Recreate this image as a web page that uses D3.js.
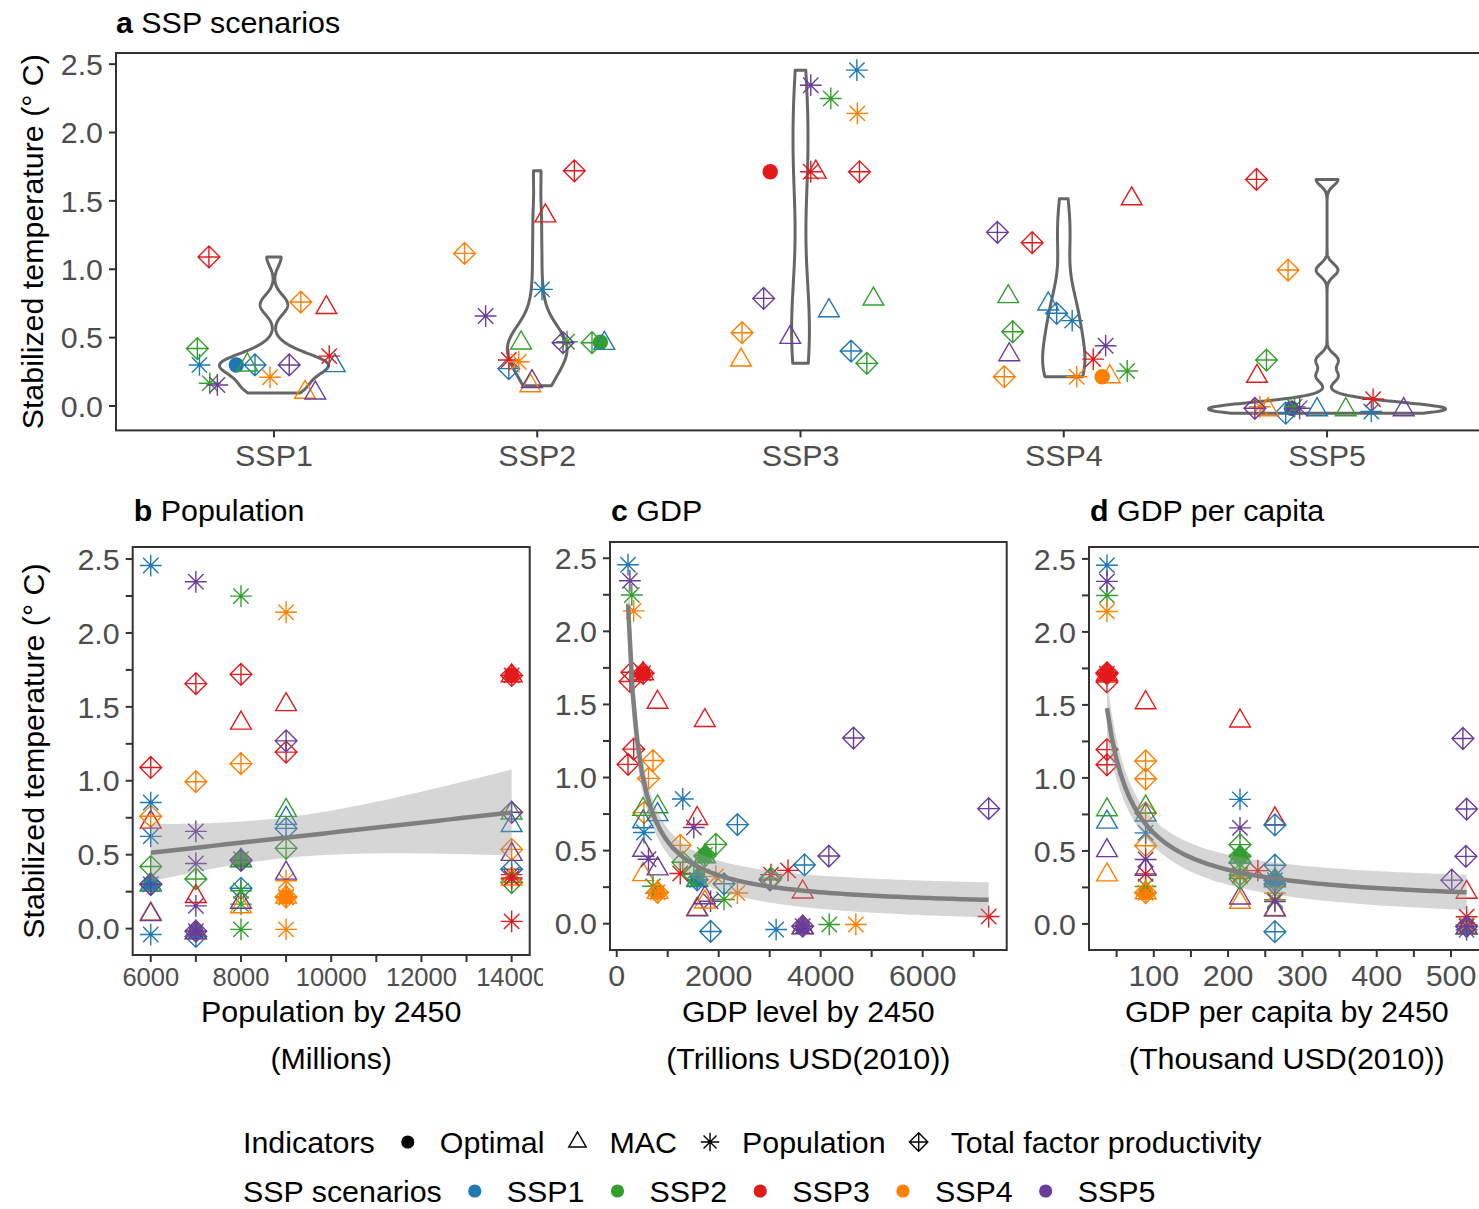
<!DOCTYPE html>
<html>
<head>
<meta charset="utf-8">
<script src="https://cdn.jsdelivr.net/npm/d3@7"></script>
<style>
  body { margin: 0; background: #fff; }
  text { font-family: "Liberation Sans", Arial, Helvetica, sans-serif; }
</style>
</head>
<body>
<svg id="fig" width="1479" height="1209"></svg>
<script>
// ---------------- data ----------------
const scenarios = ["SSP1", "SSP2", "SSP3", "SSP4", "SSP5"];
const sspColors = ["#1F78B4", "#33A02C", "#E31A1C", "#FF7F00", "#6A3D9A"];
const indicatorNames = ["Optimal", "MAC", "Population", "Total factor productivity"];

// population by 2450 (millions) of each SSP
const population2450 = [6000, 8000, 14000, 9000, 7000];

// stabilized temperature (deg C); rows = scenario, columns = SSP the indicator is taken from
const tempOptimal = [0.30, 0.466, 1.713, 0.214, -0.017];
const tempMAC = [
  [0.295, 0.30, 0.72, 0.10, 0.095],
  [0.458, 0.461, 1.39, 0.148, 0.178],
  [0.697, 0.782, 1.71, 0.336, 0.502],
  [0.746, 0.80, 1.515, 0.214, 0.375],
  [-0.027, -0.027, 0.217, -0.027, -0.027]
];
const tempPop = [
  [0.30, 0.166, 0.365, 0.21, 0.154],
  [0.853, 0.47, 0.336, 0.324, 0.658],
  [2.456, 2.249, 1.713, 2.14, 2.346],
  [0.624, 0.256, 0.343, 0.214, 0.441],
  [-0.04, -0.005, 0.049, -0.005, -0.017]
];
const tempTFP = [
  [0.30, 0.42, 1.09, 0.76, 0.30],
  [0.273, 0.463, 1.72, 1.116, 0.463],
  [0.402, 0.312, 1.713, 0.536, 0.787],
  [0.678, 0.543, 1.194, 0.214, 1.27],
  [-0.053, 0.336, 1.657, 0.994, -0.017]
];

// horizontal jitter in panel a (fraction of a category step)
const jitOptimal = [-0.143, 0.240, -0.115, 0.146, -0.135];
const jitMAC = [
  [0.231, -0.101, 0.199, 0.118, 0.157],
  [0.255, -0.061, 0.031, -0.026, -0.020],
  [0.108, 0.277, 0.058, -0.226, -0.039],
  [-0.059, -0.211, 0.258, 0.175, -0.207],
  [-0.038, 0.071, -0.266, -0.224, 0.291]
];
const jitPop = [
  [-0.283, -0.244, 0.210, -0.015, -0.215],
  [0.018, 0.113, -0.108, -0.070, -0.196],
  [0.214, 0.115, 0.039, 0.216, 0.039],
  [0.032, 0.241, 0.112, 0.049, 0.159],
  [0.168, -0.123, 0.175, -0.255, -0.104]
];
const jitTFP = [
  [-0.072, -0.291, -0.247, 0.102, 0.058],
  [-0.108, 0.208, 0.141, -0.276, 0.098],
  [0.192, 0.252, 0.224, -0.222, -0.140],
  [-0.027, -0.194, -0.120, -0.226, -0.252],
  [-0.157, -0.230, -0.268, -0.148, -0.274]
];

// GDP per capita by 2450 (thousand USD 2010)
const gdpPcOptimal = [263, 216, 37, 89, 521];
const gdpPcMAC = [
  [263, 263, 263, 263, 263],
  [216, 216, 216, 216, 216],
  [37, 37, 37, 37, 37],
  [89, 89, 89, 89, 89],
  [521, 521, 521, 521, 521]
];
const gdpPcPop = [
  [263, 263, 240, 263, 263],
  [216, 216, 216, 216, 216],
  [37, 37, 37, 37, 37],
  [89, 89, 89, 89, 89],
  [521, 521, 521, 521, 521]
];
const gdpPcTFP = [
  [263, 216, 37, 89, 501],
  [263, 216, 37, 89, 520],
  [263, 216, 37, 89, 521],
  [263, 216, 37, 89, 516],
  [263, 216, 37, 89, 521]
];

const yTicksMajor = [0, 0.5, 1.0, 1.5, 2.0, 2.5];
const yTicksMinor = [0.25, 0.75, 1.25, 1.75, 2.25];
const popTicks = [6000, 8000, 10000, 12000, 14000];
const popMinor = [7000, 9000, 11000, 13000];
const gdpTicks = [0, 2000, 4000, 6000];
const gdpMinor = [1000, 3000, 5000, 7000];
const pcTicks = [100, 200, 300, 400, 500];
const pcMinor = [50, 150, 250, 350, 450];

// ---------------- records ----------------
const records = [];
scenarios.forEach((s, i) => {
  records.push({ scen: i, ind: "Optimal", col: i, temp: tempOptimal[i], jit: jitOptimal[i],
    pop: population2450[i], pc: gdpPcOptimal[i] });
  for (let c = 0; c < 5; c++) {
    records.push({ scen: i, ind: "MAC", col: c, temp: tempMAC[i][c], jit: jitMAC[i][c],
      pop: population2450[i], pc: gdpPcMAC[i][c] });
    records.push({ scen: i, ind: "Population", col: c, temp: tempPop[i][c], jit: jitPop[i][c],
      pop: population2450[c], pc: gdpPcPop[i][c] });
    records.push({ scen: i, ind: "Total factor productivity", col: c, temp: tempTFP[i][c], jit: jitTFP[i][c],
      pop: population2450[i], pc: gdpPcTFP[i][c] });
  }
});
records.forEach(d => { d.gdp = d.pc * d.pop / 1000; });

// ---------------- helpers ----------------
const svg = d3.select("#fig");
const FONT = 30.4;
const AXIS_COL = "#333333";
const TICK_TXT = "#4D4D4D";
const TICK_LEN = 7;

function shapePath(ind, s) {
  const a = Math.SQRT2 * s;
  if (ind === "MAC") {
    return `M0,${-1.555 * s}L${1.347 * s},${0.778 * s}L${-1.347 * s},${0.778 * s}Z`;
  }
  if (ind === "Population") {
    return `M${-a},0L${a},0M0,${-a}L0,${a}M${-s},${-s}L${s},${s}M${-s},${s}L${s},${-s}`;
  }
  // total factor productivity: diamond with cross
  return `M${-a},0L0,${-a}L${a},0L0,${a}ZM${-a},0L${a},0M0,${-a}L0,${a}`;
}

function drawPoints(g, data, xf, yf, s) {
  data.forEach(d => {
    const col = sspColors[d.col];
    const tx = xf(d), ty = yf(d);
    if (d.ind === "Optimal") {
      g.append("circle").attr("cx", tx).attr("cy", ty).attr("r", s).attr("fill", col);
    } else {
      g.append("path").attr("d", shapePath(d.ind, s))
        .attr("transform", `translate(${tx},${ty})`)
        .attr("fill", "none").attr("stroke", col).attr("stroke-width", 1.4);
    }
  });
}

function expand(ext) {
  const p = 0.05 * (ext[1] - ext[0]);
  return [ext[0] - p, ext[1] + p];
}

function frame(g, box) {
  g.append("rect").attr("x", box.x0).attr("y", box.y0)
    .attr("width", box.x1 - box.x0).attr("height", box.y1 - box.y0)
    .attr("fill", "none").attr("stroke", AXIS_COL).attr("stroke-width", 2);
}

function yAxis(g, box, y, minor) {
  const all = yTicksMajor.concat(minor ? yTicksMinor : []);
  all.forEach(v => {
    g.append("line").attr("x1", box.x0 - TICK_LEN).attr("x2", box.x0)
      .attr("y1", y(v)).attr("y2", y(v)).attr("stroke", AXIS_COL).attr("stroke-width", 2);
  });
  yTicksMajor.forEach(v => {
    g.append("text").attr("x", box.x0 - 13).attr("y", y(v)).attr("dy", "0.35em")
      .attr("text-anchor", "end").attr("font-size", FONT).attr("fill", TICK_TXT)
      .text(d3.format(".1f")(v));
  });
}

function xAxis(g, box, x, major, minor, fmt, size, labelY) {
  major.concat(minor).forEach(v => {
    g.append("line").attr("x1", x(v)).attr("x2", x(v))
      .attr("y1", box.y1).attr("y2", box.y1 + TICK_LEN).attr("stroke", AXIS_COL).attr("stroke-width", 2);
  });
  major.forEach(v => {
    g.append("text").attr("x", x(v)).attr("y", labelY).attr("dy", "0.35em")
      .attr("text-anchor", "middle").attr("font-size", size).attr("fill", TICK_TXT)
      .text(fmt(v));
  });
}

function title(g, x, y, letter, rest) {
  const t = g.append("text").attr("x", x).attr("y", y).attr("dy", "0.35em")
    .attr("font-size", FONT).attr("fill", "#000");
  t.append("tspan").attr("font-weight", "bold").text(letter);
  t.append("tspan").text(" " + rest);
}

function yTitle(g, x, yc) {
  g.append("text").attr("transform", `translate(${x},${yc}) rotate(-90)`)
    .attr("dy", "0.35em").attr("text-anchor", "middle").attr("font-size", FONT)
    .attr("fill", "#000").text("Stabilized temperature (° C)");
}

function xTitle(g, box, l1, l2) {
  const xc = (box.x0 + box.x1) / 2;
  g.append("text").attr("x", xc).attr("y", 1011).attr("dy", "0.35em").attr("text-anchor", "middle")
    .attr("font-size", FONT).attr("fill", "#000").text(l1);
  g.append("text").attr("x", xc).attr("y", 1058).attr("dy", "0.35em").attr("text-anchor", "middle")
    .attr("font-size", FONT).attr("fill", "#000").text(l2);
}

function clipFor(id, box) {
  svg.append("clipPath").attr("id", id).append("rect")
    .attr("x", box.x0).attr("y", box.y0).attr("width", box.x1 - box.x0).attr("height", box.y1 - box.y0);
  return `url(#${id})`;
}

// Ordinary least squares on a transformed predictor, with 95% confidence band
function fitLM(xs, ys, tf) {
  const n = xs.length;
  const u = xs.map(tf);
  const ub = d3.mean(u), yb = d3.mean(ys);
  let sxx = 0, sxy = 0;
  for (let i = 0; i < n; i++) { sxx += (u[i] - ub) ** 2; sxy += (u[i] - ub) * (ys[i] - yb); }
  const b = sxy / sxx, a = yb - b * ub;
  let sse = 0;
  for (let i = 0; i < n; i++) sse += (ys[i] - a - b * u[i]) ** 2;
  const mse = sse / (n - 2);
  const tq = 1.9908; // t(0.975, 78)
  const [lo, hi] = d3.extent(xs);
  return d3.range(80).map(k => {
    const xv = lo + (hi - lo) * k / 79;
    const uv = tf(xv);
    const f = a + b * uv;
    const se = Math.sqrt(mse * (1 / n + (uv - ub) ** 2 / sxx));
    return { x: xv, y: f, lo: f - tq * se, hi: f + tq * se };
  });
}

// ---------------- panel a : violins per scenario ----------------
const boxA = { x0: 116, x1: 1485, y0: 53, y1: 430.4 };
const gA = svg.append("g");
const xA = d3.scalePoint().domain(scenarios).range([boxA.x0, boxA.x1]).padding(0.6);
const stepA = xA.step();
const yA = d3.scaleLinear().domain(expand(d3.extent(records, d => d.temp))).range([boxA.y1, boxA.y0]);

function bwNrd0(v) {
  const s = v.slice().sort((p, q) => p - q);
  const sd = d3.deviation(s);
  const iqr = d3.quantileSorted(s, 0.75) - d3.quantileSorted(s, 0.25);
  let lo = Math.min(sd, iqr / 1.34);
  if (!lo) lo = sd || Math.abs(s[0]) || 1;
  return 0.9 * lo * Math.pow(s.length, -0.2);
}
const violins = scenarios.map((s, i) => {
  const v = records.filter(d => d.scen === i).map(d => d.temp);
  const bw = bwNrd0(v);
  const [lo, hi] = d3.extent(v);
  const pts = d3.range(512).map(k => {
    const t = lo + (hi - lo) * k / 511;
    const dens = d3.sum(v, xi => Math.exp(-0.5 * ((t - xi) / bw) ** 2)) / (v.length * bw * Math.sqrt(2 * Math.PI));
    return { t, dens };
  });
  return { scen: s, pts };
});
const maxDens = d3.max(violins, v => d3.max(v.pts, p => p.dens));

const clipA = clipFor("clipA", boxA);
const plotA = gA.append("g").attr("clip-path", clipA);
violins.forEach(v => {
  const cx = xA(v.scen);
  const right = v.pts.map(p => [cx + p.dens / maxDens * 0.45 * stepA, yA(p.t)]);
  const left = v.pts.slice().reverse().map(p => [cx - p.dens / maxDens * 0.45 * stepA, yA(p.t)]);
  const ring = right.concat(left);
  plotA.append("path").attr("d", d3.line()(ring) + "Z")
    .attr("fill", "none").attr("stroke", "#666666").attr("stroke-width", 3).attr("stroke-linejoin", "round");
});
drawPoints(plotA, records, d => xA(scenarios[d.scen]) + d.jit * stepA, d => yA(d.temp), 7.7);
frame(gA, boxA);
yAxis(gA, boxA, yA, false);
scenarios.forEach(s => {
  gA.append("line").attr("x1", xA(s)).attr("x2", xA(s)).attr("y1", boxA.y1).attr("y2", boxA.y1 + TICK_LEN)
    .attr("stroke", AXIS_COL).attr("stroke-width", 2);
  gA.append("text").attr("x", xA(s)).attr("y", 455).attr("dy", "0.35em").attr("text-anchor", "middle")
    .attr("font-size", FONT).attr("fill", TICK_TXT).text(s);
});
title(gA, 116, 22, "a", "SSP scenarios");
yTitle(gA, 32, (boxA.y0 + boxA.y1) / 2);

// ---------------- panels b, c, d : scatter with fitted curve ----------------
function scatterPanel(cfg) {
  const box = cfg.box;
  const outer = svg.append("g");
  if (cfg.cellRight) {
    svg.append("clipPath").attr("id", cfg.id + "cell").append("rect")
      .attr("x", 0).attr("y", 480).attr("width", cfg.cellRight).attr("height", 729);
    outer.attr("clip-path", `url(#${cfg.id}cell)`);
  }
  const xs = records.map(cfg.xv), ys = records.map(d => d.temp);
  const fit = fitLM(xs, ys, cfg.tf);
  const x = d3.scaleLinear().domain(expand(d3.extent(xs))).range([box.x0, box.x1]);
  const yExt = d3.extent(ys.concat(fit.map(f => f.lo), fit.map(f => f.hi)));
  const y = d3.scaleLinear().domain(expand(yExt)).range([box.y1, box.y0]);
  const plot = outer.append("g").attr("clip-path", clipFor(cfg.id, box));
  drawPoints(plot, records, d => x(cfg.xv(d)), d => y(d.temp), 7.7);
  plot.append("path").datum(fit)
    .attr("d", d3.area().x(f => x(f.x)).y0(f => y(f.lo)).y1(f => y(f.hi)))
    .attr("fill", "#999999").attr("fill-opacity", 0.4);
  plot.append("path").datum(fit)
    .attr("d", d3.line().x(f => x(f.x)).y(f => y(f.y)))
    .attr("fill", "none").attr("stroke", "#7F7F7F").attr("stroke-width", 4.5);
  frame(outer, box);
  yAxis(outer, box, y, true);
  xAxis(outer, box, x, cfg.major, cfg.minor, d3.format("d"), cfg.tickSize, cfg.labelY);
  title(outer, box.x0 + 1, 510, cfg.letter, cfg.title);
  xTitle(outer, box, cfg.xl1, cfg.xl2);
  if (cfg.yTitle) yTitle(outer, 33, (box.y0 + box.y1) / 2);
}

scatterPanel({ id: "clipB", box: { x0: 132.7, x1: 529.7, y0: 547, y1: 955 }, cellRight: 543,
  xv: d => d.pop, tf: v => v, major: popTicks, minor: popMinor, tickSize: 25.5, labelY: 977,
  letter: "b", title: "Population", xl1: "Population by 2450", xl2: "(Millions)", yTitle: true });
scatterPanel({ id: "clipC", box: { x0: 610, x1: 1006.7, y0: 542, y1: 950 },
  xv: d => d.gdp, tf: v => 1 / v, major: gdpTicks, minor: gdpMinor, tickSize: FONT, labelY: 975,
  letter: "c", title: "GDP", xl1: "GDP level by 2450", xl2: "(Trillions USD(2010))" });
scatterPanel({ id: "clipD", box: { x0: 1089, x1: 1484.6, y0: 547, y1: 950 },
  xv: d => d.pc, tf: v => 1 / v, major: pcTicks, minor: pcMinor, tickSize: FONT, labelY: 975,
  letter: "d", title: "GDP per capita", xl1: "GDP per capita by 2450", xl2: "(Thousand USD(2010))" });

// ---------------- legends ----------------
const gL = svg.append("g");
function legendRow(yc, head, items) {
  let x = 243;
  const h = gL.append("text").attr("x", x).attr("y", yc).attr("dy", "0.35em")
    .attr("font-size", FONT).attr("fill", "#000").text(head);
  x += h.node().getComputedTextLength() + 33;
  items.forEach(it => {
    const k = gL.append("g").attr("transform", `translate(${x},${yc})`);
    if (it.ind === "Optimal") {
      k.append("circle").attr("r", 6.6).attr("fill", it.color);
    } else {
      k.append("path").attr("d", shapePath(it.ind, 6.5)).attr("fill", "none")
        .attr("stroke", it.color).attr("stroke-width", 1.4);
    }
    const t = gL.append("text").attr("x", x + 32).attr("y", yc).attr("dy", "0.35em")
      .attr("font-size", FONT).attr("fill", "#000").text(it.label);
    x += 32 + t.node().getComputedTextLength() + 33;
  });
}
legendRow(1142, "Indicators", indicatorNames.map(n => ({ ind: n, color: "#000", label: n })));
legendRow(1191, "SSP scenarios", scenarios.map((s, i) => ({ ind: "Optimal", color: sspColors[i], label: s })));
</script>
</body>
</html>
